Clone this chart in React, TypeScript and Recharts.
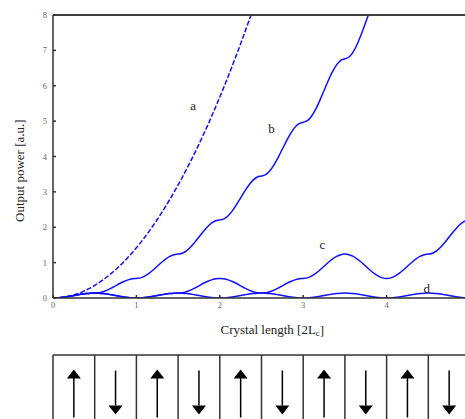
import React from 'react';
import { LineChart, Line, XAxis, YAxis, ReferenceDot, ReferenceLine, Scatter, ComposedChart } from 'recharts';

// Crystal length sample step [2Lc]
const lengthStep = 0.05;
const xTicks = [0, 1, 2, 3, 4];
const yTicks = [0, 1, 2, 3, 4, 5, 6, 7, 8];

// a: perfect phase matching
const seriesA = [0, 0.004, 0.014, 0.032, 0.057, 0.089, 0.128, 0.174, 0.227, 0.288, 0.355, 0.43, 0.511, 0.6, 0.696, 0.799, 0.909, 1.026, 1.15, 1.282, 1.42, 1.566, 1.718, 1.878, 2.045, 2.219, 2.4, 2.588, 2.783, 2.986, 3.195, 3.412, 3.635, 3.866, 4.104, 4.349, 4.601, 4.86, 5.126, 5.4, 5.68, 5.968, 6.262, 6.564, 6.873, 7.189, 7.512, 7.842, 8.179, 8.524];
// b: first-order QPM
const seriesB = [0, 0.003, 0.013, 0.028, 0.048, 0.069, 0.09, 0.11, 0.125, 0.135,
  0.138, 0.148, 0.178, 0.223, 0.281, 0.345, 0.409, 0.467, 0.513, 0.542,
  0.552, 0.569, 0.618, 0.694, 0.79, 0.897, 1.004, 1.1, 1.176, 1.225,
  1.242, 1.266, 1.334, 1.441, 1.576, 1.725, 1.874, 2.009, 2.116, 2.184,
  2.208, 2.238, 2.327, 2.464, 2.637, 2.829, 3.021, 3.194, 3.331, 3.42,
  3.45, 3.487, 3.595, 3.763, 3.975, 4.209, 4.444, 4.655, 4.823, 4.931,
  4.968, 5.012, 5.139, 5.338, 5.588, 5.865, 6.142, 6.392, 6.591, 6.718,
  6.762, 6.813, 6.96, 7.189, 7.477, 7.797, 8.117, 8.405];
// c: third-order QPM
const seriesC = [0, 0.003, 0.013, 0.028, 0.048, 0.069, 0.09, 0.11, 0.125, 0.135,
  0.138, 0.135, 0.125, 0.11, 0.09, 0.069, 0.048, 0.028, 0.013, 0.003,
  0, 0.003, 0.013, 0.028, 0.048, 0.069, 0.09, 0.11, 0.125, 0.135,
  0.138, 0.148, 0.178, 0.223, 0.281, 0.345, 0.409, 0.467, 0.513, 0.542,
  0.552, 0.542, 0.513, 0.467, 0.409, 0.345, 0.281, 0.223, 0.178, 0.148,
  0.138, 0.148, 0.178, 0.223, 0.281, 0.345, 0.409, 0.467, 0.513, 0.542,
  0.552, 0.569, 0.618, 0.694, 0.79, 0.897, 1.004, 1.1, 1.176, 1.225,
  1.242, 1.225, 1.176, 1.1, 1.004, 0.897, 0.79, 0.694, 0.618, 0.569,
  0.552, 0.569, 0.618, 0.694, 0.79, 0.897, 1.004, 1.1, 1.176, 1.225,
  1.242, 1.266, 1.334, 1.441, 1.576, 1.725, 1.874, 2.009, 2.116, 2.184,
  2.208];
// d: not phase matched
const seriesD = [0, 0.003, 0.013, 0.028, 0.048, 0.069, 0.09, 0.11, 0.125, 0.135, 0.138, 0.135, 0.125, 0.11, 0.09, 0.069, 0.048, 0.028, 0.013, 0.003,
  0, 0.003, 0.013, 0.028, 0.048, 0.069, 0.09, 0.11, 0.125, 0.135, 0.138, 0.135, 0.125, 0.11, 0.09, 0.069, 0.048, 0.028, 0.013, 0.003,
  0, 0.003, 0.013, 0.028, 0.048, 0.069, 0.09, 0.11, 0.125, 0.135, 0.138, 0.135, 0.125, 0.11, 0.09, 0.069, 0.048, 0.028, 0.013, 0.003,
  0, 0.003, 0.013, 0.028, 0.048, 0.069, 0.09, 0.11, 0.125, 0.135, 0.138, 0.135, 0.125, 0.11, 0.09, 0.069, 0.048, 0.028, 0.013, 0.003,
  0, 0.003, 0.013, 0.028, 0.048, 0.069, 0.09, 0.11, 0.125, 0.135, 0.138, 0.135, 0.125, 0.11, 0.09, 0.069, 0.048, 0.028, 0.013, 0.003,
  0];

const curveLabels = [
  { name: 'a', x: 1.68, y: 5.45 },
  { name: 'b', x: 2.62, y: 4.78 },
  { name: 'c', x: 3.23, y: 1.5 },
  { name: 'd', x: 4.48, y: 0.27 },
];

const domainWalls = [0, 0.5, 1, 1.5, 2, 2.5, 3, 3.5, 4, 4.5, 5];
const domainCenters = [0.25, 0.75, 1.25, 1.75, 2.25, 2.75, 3.25, 3.75, 4.25, 4.75];
const domainDirections = ['up', 'down', 'up', 'down', 'up', 'down', 'up', 'down', 'up', 'down'];

const rows = seriesD.map((dv, i) => ({
  x: Math.round(i * lengthStep * 100) / 100,
  a: i < seriesA.length ? seriesA[i] : null,
  b: i < seriesB.length ? seriesB[i] : null,
  c: seriesC[i],
  d: dv,
}));

const domainRows = domainCenters.map((x, i) => ({ x, y: 0.5, dir: domainDirections[i] }));

const BLUE = '#1010ff';
const AXIS = '#333';
const FONT = 'Liberation Serif';

const Arrow = (props: any) => {
  const { cx, cy, payload } = props;
  if (payload.dir === 'up') {
    return (
      <g>
        <line x1={cx} x2={cx} y1={cy - 16} y2={cy + 24} stroke="#000" strokeWidth={1.5} />
        <polygon points={`${cx},${cy - 24} ${cx - 7},${cy - 15} ${cx + 7},${cy - 15}`} fill="#000" />
      </g>
    );
  }
  return (
    <g>
      <line x1={cx} x2={cx} y1={cy - 23} y2={cy + 12} stroke="#000" strokeWidth={1.5} />
      <polygon points={`${cx - 7},${cy + 12} ${cx + 7},${cy + 12} ${cx},${cy + 21}`} fill="#000" />
    </g>
  );
};

const tickStyle = { fontSize: 8.5, fill: '#666', fontFamily: FONT };

export default function App() {
  return (
    <div style={{ position: 'absolute', left: 0, top: 0, width: 465, height: 419, overflow: 'hidden', background: '#fff', fontFamily: FONT }}>
      <div style={{ position: 'absolute', left: 0, top: 0 }}>
        <LineChart width={475} height={345} data={rows} margin={{ top: 14, right: 5, bottom: 17, left: 0 }}>
          <XAxis xAxisId="bottom" type="number" dataKey="x" domain={[0, 5]} ticks={xTicks} allowDataOverflow
            height={30} tickSize={-3} tickMargin={7} stroke={AXIS} strokeWidth={1.5} tick={tickStyle} />
          <XAxis xAxisId="top" orientation="top" type="number" dataKey="x" domain={[0, 5]} ticks={xTicks} allowDataOverflow
            height={1} tickSize={-3} stroke={AXIS} strokeWidth={1.5} tick={false} />
          <YAxis type="number" domain={[0, 8]} ticks={yTicks} allowDataOverflow width={53}
            tickSize={-3} tickMargin={9} stroke={AXIS} strokeWidth={1.5} tick={tickStyle} />
          <ReferenceLine xAxisId="bottom" y={8} stroke={AXIS} strokeWidth={1.5} />
          <Line xAxisId="bottom" dataKey="a" stroke={BLUE} strokeWidth={1.5} strokeDasharray="5 2" dot={false} type="monotone" isAnimationActive={false} />
          <Line xAxisId="bottom" dataKey="b" stroke={BLUE} strokeWidth={1.5} dot={false} type="monotone" isAnimationActive={false} />
          <Line xAxisId="bottom" dataKey="c" stroke={BLUE} strokeWidth={1.5} dot={false} type="monotone" isAnimationActive={false} />
          <Line xAxisId="bottom" dataKey="d" stroke={BLUE} strokeWidth={1.5} dot={false} type="monotone" isAnimationActive={false} />
          {curveLabels.map((l) => (
            <ReferenceDot key={l.name} xAxisId="bottom" x={l.x} y={l.y} r={0}
              shape={(p: any) => (
                <text x={p.cx} y={p.cy} textAnchor="middle" dominantBaseline="central" fontSize={13} fontFamily={FONT} fill="#222">{l.name}</text>
              )} />
          ))}
          <ReferenceDot xAxisId="bottom" x={2.63} y={-0.9} r={0} ifOverflow="visible"
            shape={(p: any) => (
              <text x={p.cx} y={p.cy} textAnchor="middle" dominantBaseline="central" fontSize={13} fontFamily={FONT} fill="#222">
                Crystal length [2L<tspan dy={3} fontSize={9}>c</tspan><tspan dy={-3}>]</tspan>
              </text>
            )} />
          <ReferenceDot xAxisId="bottom" x={-0.4} y={3.6} r={0} ifOverflow="visible"
            shape={(p: any) => (
              <text x={p.cx} y={p.cy} transform={`rotate(-90 ${p.cx} ${p.cy})`} textAnchor="middle" dominantBaseline="central" fontSize={13} fontFamily={FONT} fill="#222">
                Output power [a.u.]
              </text>
            )} />
        </LineChart>
      </div>
      <div style={{ position: 'absolute', left: 0, top: 340 }}>
        <ComposedChart width={475} height={92} data={domainRows} margin={{ top: 15, right: 5, bottom: 0, left: 53 }}>
          <XAxis type="number" dataKey="x" domain={[0, 5]} hide />
          <YAxis type="number" domain={[0, 1]} hide />
          {domainWalls.map((w) => (
            <ReferenceLine key={w} x={w} stroke={AXIS} strokeWidth={1.5} />
          ))}
          <ReferenceLine y={1} stroke={AXIS} strokeWidth={1.5} />
          <Scatter dataKey="y" data={domainRows} shape={Arrow} isAnimationActive={false} />
        </ComposedChart>
      </div>
    </div>
  );
}
